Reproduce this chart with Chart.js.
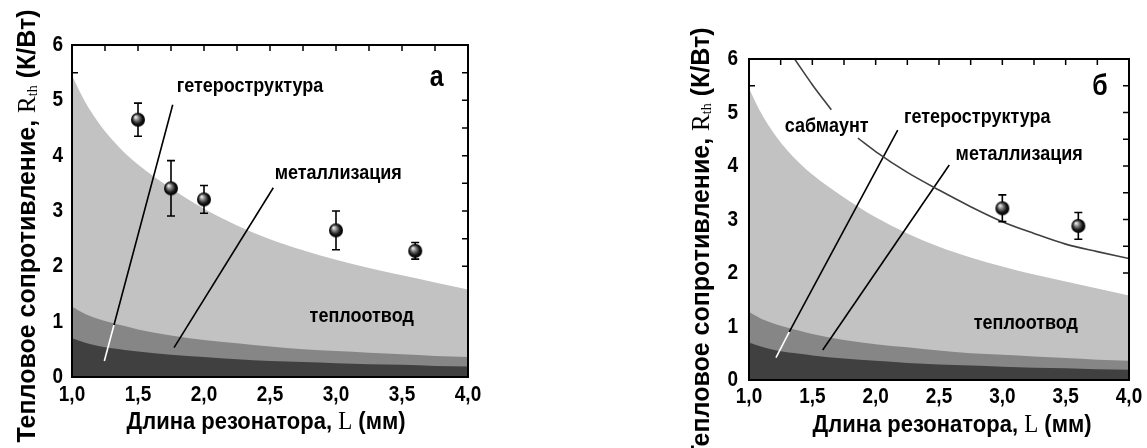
<!DOCTYPE html>
<html>
<head>
<meta charset="utf-8">
<script src="https://cdn.jsdelivr.net/npm/chart.js@4.4.1/dist/chart.umd.min.js"></script>
<style>
  html, body { margin: 0; padding: 0; background: #fff; }
  .panel { position: absolute; top: 0; height: 448px; }
  #pa { left: 0; width: 573px; }
  #pb { left: 573px; width: 574px; }
</style>
</head>
<body>
<div class="panel" id="pa"><canvas id="chart-a"></canvas></div>
<div class="panel" id="pb"><canvas id="chart-b"></canvas></div>
<script>
// ---- data ----

// resonator length grid for the computed contributions (mm)
const L_GRID   = [1.0, 1.1, 1.2, 1.3, 1.4, 1.5, 1.75, 2.0, 2.25, 2.5, 2.75, 3.0, 3.25, 3.5, 3.75, 4.0];
// cumulative R_th (K/W): heterostructure, + metallization, + heat sink
const R_HETERO = [0.70, 0.62, 0.56, 0.52, 0.49, 0.46, 0.40, 0.36, 0.32, 0.29, 0.27, 0.25, 0.23, 0.22, 0.20, 0.19];
const R_METAL  = [1.27, 1.14, 1.05, 0.98, 0.92, 0.86, 0.75, 0.67, 0.61, 0.55, 0.50, 0.47, 0.44, 0.41, 0.38, 0.36];
const R_SINK   = [5.45, 4.97, 4.60, 4.30, 4.05, 3.84, 3.41, 3.04, 2.74, 2.49, 2.29, 2.12, 1.97, 1.84, 1.71, 1.58];

// submount curve (panel б), null = gap for the label
const SUB_L = [1.36, 1.5, 1.65, 1.76, 1.86, 2.0, 2.25, 2.5, 2.75, 3.0, 3.25, 3.5, 3.75, 4.0];
const SUB_R = [6.0, 5.52, 5.05, null, 4.52, 4.27, 3.88, 3.55, 3.24, 2.96, 2.74, 2.54, 2.40, 2.27];

// measured points
const MEAS_A_L   = [1.5, 1.75, 2.0, 3.0, 3.6];
const MEAS_A_R   = [4.65, 3.41, 3.21, 2.65, 2.28];
const MEAS_A_ERR = [0.30, 0.50, 0.25, 0.35, 0.15];
const MEAS_B_L   = [3.0, 3.6];
const MEAS_B_R   = [3.21, 2.88];
const MEAS_B_ERR = [0.25, 0.25];

// leader lines (data coords): black part, then white part inside the dark bands
const LEAD_A_HET_L   = [1.763, 1.318];
const LEAD_A_HET_R   = [4.92, 0.94];
const LEAD_A_HETW_L  = [1.318, 1.245];
const LEAD_A_HETW_R  = [0.94, 0.29];
const LEAD_A_MET_L   = [2.525, 1.773];
const LEAD_A_MET_R   = [3.42, 0.53];
const LEAD_B_HET_L   = [2.174, 1.318];
const LEAD_B_HET_R   = [4.67, 0.90];
const LEAD_B_HETW_L  = [1.318, 1.213];
const LEAD_B_HETW_R  = [0.90, 0.42];
const LEAD_B_MET_L   = [2.581, 1.582];
const LEAD_B_MET_R   = [4.02, 0.56];

const X_TICK_LABELS = ['1,0', '1,5', '2,0', '2,5', '3,0', '3,5', '4,0'];
const Y_TICK_LABELS = ['0', '1', '2', '3', '4', '5', '6'];

const SANS  = "'Liberation Sans', Arial, sans-serif";
const SERIF = "'Liberation Serif', 'Times New Roman', serif";
const STRETCH = 1.16;   // the source figure is slightly taller than wide

const zip = (xs, ys) => xs.map((x, i) => ({ x, y: ys[i] }));

// shaded ball marker
function makeBall(r) {
  const c = document.createElement('canvas');
  c.width = c.height = r * 2 + 2;
  const g = c.getContext('2d');
  const cx = r + 1, cy = r + 1;
  const grad = g.createRadialGradient(cx - r * 0.35, cy - r * 0.4, 0.5, cx, cy, r);
  grad.addColorStop(0, '#ececec');
  grad.addColorStop(0.35, '#777');
  grad.addColorStop(0.7, '#151515');
  grad.addColorStop(1, '#000');
  g.fillStyle = grad;
  g.beginPath(); g.arc(cx, cy, r, 0, Math.PI * 2); g.fill();
  return c;
}
const BALL = makeBall(7);

// text drawn a little taller than wide, centred vertically on y
function tallText(ctx, text, x, y, font, align) {
  ctx.save();
  ctx.translate(x, y);
  ctx.scale(1, STRETCH);
  ctx.font = font;
  ctx.textAlign = align || 'center';
  ctx.textBaseline = 'middle';
  ctx.fillStyle = '#000';
  ctx.fillText(text, 0, 0);
  ctx.restore();
}

// ---- plugins ----

// inward ticks, drawn under the fills
const innerTicks = {
  id: 'innerTicks',
  beforeDatasetsDraw(chart) {
    const { ctx, chartArea: a, scales: { x, y } } = chart;
    ctx.save();
    ctx.strokeStyle = '#000';
    ctx.lineWidth = 1.5;
    ctx.beginPath();
    for (let v = 1; v <= 4.001; v += 0.25) {
      const px = x.getPixelForValue(v);
      ctx.moveTo(px, a.top); ctx.lineTo(px, a.top + 6);
      ctx.moveTo(px, a.bottom); ctx.lineTo(px, a.bottom - 6);
    }
    for (let v = 0; v <= 6.001; v += 0.5) {
      const py = y.getPixelForValue(v);
      ctx.moveTo(a.left, py); ctx.lineTo(a.left + 6, py);
      ctx.moveTo(a.right, py); ctx.lineTo(a.right - 6, py);
    }
    ctx.stroke();
    ctx.restore();
  },
};

// error bars under the ball markers
const errorBars = {
  id: 'errorBars',
  beforeDatasetDraw(chart, args) {
    const ds = chart.data.datasets[args.index];
    if (!ds.errors) return;
    const { ctx, scales: { x, y } } = chart;
    ctx.save();
    ctx.strokeStyle = '#000';
    ctx.lineWidth = 1.6;
    ds.data.forEach((p, i) => {
      const px = x.getPixelForValue(p.x);
      const top = y.getPixelForValue(p.y + ds.errors[i]);
      const bot = y.getPixelForValue(p.y - ds.errors[i]);
      ctx.beginPath();
      ctx.moveTo(px, top); ctx.lineTo(px, bot);
      ctx.moveTo(px - 4, top); ctx.lineTo(px + 4, top);
      ctx.moveTo(px - 4, bot); ctx.lineTo(px + 4, bot);
      ctx.stroke();
    });
    ctx.restore();
  },
};

function richText(ctx, parts, cx, cy, rot, sy) {
  ctx.save();
  ctx.translate(cx, cy);
  ctx.rotate(rot);
  ctx.scale(1, sy || 1);
  ctx.textBaseline = 'middle';
  ctx.textAlign = 'left';
  ctx.fillStyle = '#000';
  let w = 0;
  parts.forEach(p => { ctx.font = p.font; p.w = ctx.measureText(p.text).width; w += p.w; });
  let xx = -w / 2;
  parts.forEach(p => { ctx.font = p.font; ctx.fillText(p.text, xx, p.dy || 0); xx += p.w; });
  ctx.restore();
}

// frame, tick labels, axis titles and in-plot labels
const decor = {
  id: 'decor',
  afterDatasetsDraw(chart, args, opts) {
    const { ctx, chartArea: a, scales: { x, y } } = chart;
    ctx.save();
    ctx.strokeStyle = '#000';
    ctx.lineWidth = 2;
    ctx.strokeRect(a.left, a.top, a.right - a.left, a.bottom - a.top);
    ctx.restore();

    const tickFont = `bold 19px ${SANS}`;
    x.ticks.forEach((t, i) => {
      tallText(ctx, X_TICK_LABELS[i], x.getPixelForValue(t.value), a.bottom + opts.xTickGap, tickFont);
    });
    y.ticks.forEach((t, i) => {
      tallText(ctx, Y_TICK_LABELS[i], a.left - opts.yTickGap, y.getPixelForValue(t.value), tickFont, 'right');
    });

    opts.labels.forEach(l => {
      tallText(ctx, l.text, x.getPixelForValue(l.x), y.getPixelForValue(l.y), l.font || `bold 18px ${SANS}`);
    });

    richText(ctx, [
      { text: 'Тепловое сопротивление, ', font: `bold 25px ${SANS}` },
      { text: 'R', font: `25px ${SERIF}` },
      { text: 'th', font: `14px ${SERIF}`, dy: 5 },
      { text: ' (К/Вт)', font: `bold 25px ${SANS}` },
    ], opts.yTitle.x, opts.yTitle.y, -Math.PI / 2);

    richText(ctx, [
      { text: 'Длина резонатора, ', font: `bold 22px ${SANS}` },
      { text: 'L', font: `23px ${SERIF}` },
      { text: ' (мм)', font: `bold 22px ${SANS}` },
    ], opts.xTitle.x, opts.xTitle.y, 0, 1.1);
  },
};

// ---- chart builder ----

function bandSets() {
  return [
    { data: zip(L_GRID, R_HETERO), showLine: true, fill: 'origin', backgroundColor: '#404040',
      borderWidth: 0, pointRadius: 0, cubicInterpolationMode: 'monotone', order: 3 },
    { data: zip(L_GRID, R_METAL), showLine: true, fill: 'origin', backgroundColor: '#868686',
      borderWidth: 0, pointRadius: 0, cubicInterpolationMode: 'monotone', order: 4 },
    { data: zip(L_GRID, R_SINK), showLine: true, fill: 'origin', backgroundColor: '#c2c2c2',
      borderWidth: 0, pointRadius: 0, cubicInterpolationMode: 'monotone', order: 5 },
  ];
}

function leader(xs, ys, color) {
  return { data: zip(xs, ys), showLine: true, fill: false, borderColor: color,
           borderWidth: 1.6, pointRadius: 0, order: 2 };
}

function measured(xs, ys, errs) {
  return { data: zip(xs, ys), errors: errs, showLine: false, pointStyle: BALL,
           pointRadius: 7, order: 0 };
}

function makeChart(id, datasets, layout, decorOpts) {
  return new Chart(document.getElementById(id), {
    type: 'scatter',
    data: { datasets },
    plugins: [innerTicks, errorBars, decor],
    options: {
      responsive: true,
      maintainAspectRatio: false,
      animation: false,
      layout: { padding: layout.padding },
      plugins: { legend: { display: false }, tooltip: { enabled: false }, decor: decorOpts },
      scales: {
        x: {
          type: 'linear', min: 1, max: 4,
          grid: { display: false, drawTicks: false }, border: { display: false },
          ticks: { stepSize: 0.5, display: false },
          afterFit: s => { s.height = layout.xAxisH; },
        },
        y: {
          type: 'linear', min: 0, max: 6,
          grid: { display: false, drawTicks: false }, border: { display: false },
          ticks: { stepSize: 1, display: false },
          afterFit: s => { s.width = layout.yAxisW; },
        },
      },
    },
  });
}

// ---- panel а ----
makeChart('chart-a', [
  measured(MEAS_A_L, MEAS_A_R, MEAS_A_ERR),
  leader(LEAD_A_HET_L, LEAD_A_HET_R, '#000'),
  leader(LEAD_A_HETW_L, LEAD_A_HETW_R, '#fff'),
  leader(LEAD_A_MET_L, LEAD_A_MET_R, '#000'),
  ...bandSets(),
], { padding: { left: 0, top: 45, right: 105, bottom: 0 }, xAxisH: 71, yAxisW: 72 }, {
  xTickGap: 18, yTickGap: 9,
  yTitle: { x: 28, y: 226 },
  xTitle: { x: 266, y: 422 },
  labels: [
    { text: 'гетероструктура', x: 2.348, y: 5.25 },
    { text: 'металлизация', x: 3.017, y: 3.68 },
    { text: 'теплоотвод', x: 3.195, y: 1.09 },
    { text: 'а', x: 3.763, y: 5.40, font: `bold 25px ${SANS}` },
  ],
});

// ---- panel б ----
makeChart('chart-b', [
  measured(MEAS_B_L, MEAS_B_R, MEAS_B_ERR),
  { data: zip(SUB_L, SUB_R), showLine: true, spanGaps: false, fill: false, borderColor: '#404040',
    borderWidth: 1.6, pointRadius: 0, cubicInterpolationMode: 'monotone', order: 1 },
  leader(LEAD_B_HET_L, LEAD_B_HET_R, '#000'),
  leader(LEAD_B_HETW_L, LEAD_B_HETW_R, '#fff'),
  leader(LEAD_B_MET_L, LEAD_B_MET_R, '#000'),
  ...bandSets(),
], { padding: { left: 0, top: 59, right: 18, bottom: 0 }, xAxisH: 68, yAxisW: 176 }, {
  xTickGap: 17, yTickGap: 11,
  yTitle: { x: 129, y: 244 },
  xTitle: { x: 379, y: 425 },
  labels: [
    { text: 'сабмаунт', x: 1.613, y: 4.75 },
    { text: 'гетероструктура', x: 2.802, y: 4.91 },
    { text: 'металлизация', x: 3.133, y: 4.22 },
    { text: 'теплоотвод', x: 3.186, y: 1.06 },
    { text: 'б', x: 3.770, y: 5.48, font: `bold 25px ${SANS}` },
  ],
});
</script>
</body>
</html>
